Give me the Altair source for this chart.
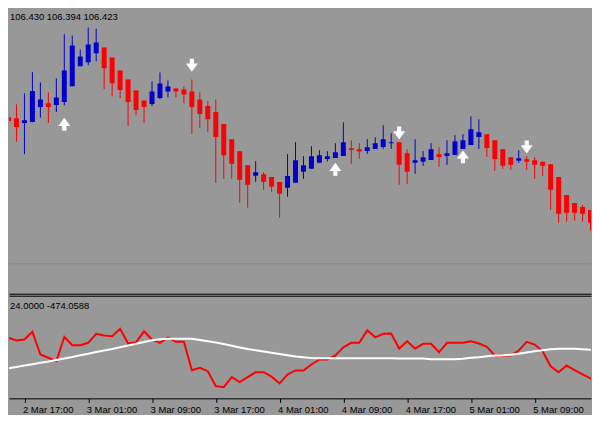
import json
import altair as alt
import pandas as pd

# ---------------- data ----------------
OPEN = [107.59, 107.53, 107.52, 107.473, 107.483, 107.633, 107.67, 107.653, 107.683, 107.843,
        108.043, 108.083, 108.173, 108.23, 108.13, 108.00, 107.91, 107.80, 107.70, 107.663,
        107.723, 107.79, 107.82, 107.81, 107.79, 107.71, 107.643, 107.583, 107.463, 107.31,
        107.19, 107.05, 106.943, 106.96, 106.93, 106.88, 106.823, 106.873, 106.983, 107.013,
        107.073, 107.113, 107.123, 107.143, 107.22, 107.21, 107.193, 107.213, 107.233, 107.27,
        107.28, 107.17, 107.073, 107.083, 107.103, 107.16, 107.143, 107.153, 107.213, 107.253,
        107.333, 107.36, 107.30, 107.21, 107.13, 107.093, 107.11, 107.10, 107.083, 107.06,
        106.93, 106.75, 106.67, 106.63, 106.60, 106.54]
HIGH = [107.62, 107.63, 107.66, 107.77, 107.983, 107.88, 107.78, 107.92, 108.363, 108.35,
        108.21, 108.43, 108.42, 108.23, 108.13, 108.00, 107.91, 107.80, 107.70, 107.89,
        107.98, 107.90, 107.82, 107.84, 107.91, 107.783, 107.693, 107.71, 107.463, 107.31,
        107.19, 107.05, 107.09, 106.98, 106.93, 106.88, 107.16, 107.28, 107.14, 107.24,
        107.20, 107.19, 107.27, 107.48, 107.30, 107.27, 107.31, 107.33, 107.45, 107.37,
        107.28, 107.21, 107.31, 107.19, 107.27, 107.23, 107.30, 107.35, 107.36, 107.54,
        107.51, 107.36, 107.30, 107.21, 107.13, 107.20, 107.14, 107.13, 107.083, 107.06,
        106.93, 106.75, 106.67, 106.65, 106.60, 106.64]
LOW = [107.44, 107.30, 107.285, 107.16, 107.48, 107.527, 107.473, 107.583, 107.65, 107.843,
       108.043, 108.053, 108.093, 107.813, 107.74, 107.723, 107.443, 107.55, 107.473, 107.643,
       107.713, 107.73, 107.73, 107.67, 107.363, 107.423, 107.383, 106.873, 106.913, 106.913,
       106.673, 106.623, 106.883, 106.803, 106.783, 106.523, 106.733, 106.873, 106.913, 107.013,
       107.073, 107.087, 107.123, 107.143, 107.063, 107.113, 107.163, 107.213, 107.213, 107.213,
       106.853, 106.863, 106.963, 107.043, 107.103, 107.033, 107.053, 107.153, 107.213, 107.253,
       107.213, 107.133, 106.993, 107.013, 107.003, 107.073, 107.003, 106.913, 106.943, 106.603,
       106.473, 106.483, 106.493, 106.483, 106.393, 106.30]
CLOSE = [107.46, 107.493, 107.433, 107.50, 107.793, 107.71, 107.633, 107.73, 108.00, 108.25,
         108.14, 108.26, 108.28, 108.023, 107.873, 107.803, 107.683, 107.603, 107.633, 107.79,
         107.87, 107.84, 107.79, 107.76, 107.633, 107.563, 107.51, 107.333, 107.15, 107.063,
         106.903, 106.853, 106.98, 106.883, 106.833, 106.763, 106.94, 107.10, 107.05, 107.14,
         107.15, 107.14, 107.18, 107.28, 107.203, 107.187, 107.23, 107.27, 107.31, 107.28,
         107.053, 106.983, 107.10, 107.13, 107.21, 107.133, 107.17, 107.29, 107.30, 107.41,
         107.38, 107.223, 107.113, 107.043, 107.053, 107.12, 107.083, 107.053, 107.043, 106.803,
         106.563, 106.573, 106.573, 106.563, 106.473, 106.425]

RED_LINE = [96, 47, 36, 40, 71, -20, -33, -47, 51, 17,
            17, 27, 63, 56, 53, 83, 24, 29, 73, 40,
            27, 49, 31, 31, -83, -73, -87, -147, -151, -111,
            -131, -111, -91, -91, -109, -136, -100, -84, -84, -60,
            -40, -40, -24, 9, 27, 27, 77, 49, 63, 64,
            4, 33, 4, 23, 23, -11, 27, 27, 27, 33,
            24, 11, -24, -24, -24, -4, 31, 20, -7, -67,
            -91, -64, -83, -100, -116, -153]
WHITE_LINE = [-80, -75, -70, -64, -59, -53, -48, -42, -36, -30,
              -23, -17, -10, -4, 2, 9, 16, 23, 30, 37,
              41, 43, 43, 43, 43, 38, 33, 28, 22, 15,
              8, 2, -3, -8, -13, -18, -23, -28, -31, -34,
              -35, -35, -35, -35, -35, -35, -35, -35, -35, -35,
              -36, -36, -36, -36, -39, -39, -39, -39, -37, -33,
              -31, -27, -24, -23, -21, -17, -12, -7, -3, 1,
              3, 3, 3, 1, -1, -4]

UP_ARROW_BARS = [8, 42, 58]
UP_ARROW_PRICE = [107.46, 107.008, 107.133]
DOWN_ARROW_BARS = [24, 50, 66]
DOWN_ARROW_PRICE = [108.053, 107.373, 107.233]
LEVEL_PRICE = [106.06]

TICK_BARS = [3, 11, 19, 27, 35, 43, 51, 59, 67, 75]
TICK_LABELS = ["2 Mar 17:00", "3 Mar 01:00", "3 Mar 09:00", "3 Mar 17:00", "4 Mar 01:00",
               "4 Mar 09:00", "4 Mar 17:00", "5 Mar 01:00", "5 Mar 09:00", "5 Mar 17:00"]

PRICE_TEXT = "106.430 106.394 106.423"
IND_TEXT = "24.0000 -474.0588"

# ---------------- styling ----------------
BG = "#989898"
BULL = "#0000CD"
BEAR = "#FF0000"
FONT = "Liberation Sans"
FS = 9.5
W = 584
H1 = 286
H2 = 103
X_MIN, X_MAX = 1.0625, 74.0625

bars = list(range(len(OPEN)))
candles = pd.DataFrame({
    "bar": bars, "open": OPEN, "high": HIGH, "low": LOW, "close": CLOSE,
    "dir": ["up" if c >= o else "down" for o, c in zip(OPEN, CLOSE)],
})
ind = pd.DataFrame({"bar": bars, "main": RED_LINE, "signal": WHITE_LINE})
ups = pd.DataFrame({"bar": UP_ARROW_BARS, "price": UP_ARROW_PRICE})
downs = pd.DataFrame({"bar": DOWN_ARROW_BARS, "price": DOWN_ARROW_PRICE})
level = pd.DataFrame({"price": LEVEL_PRICE})

xscale = alt.Scale(domain=[X_MIN, X_MAX], nice=False, zero=False)
yprice = alt.Scale(domain=[105.76, 108.62], nice=False, zero=False)
yind = alt.Scale(domain=[-196, 216], nice=False, zero=False)

frame_bottom = alt.Axis(orient="bottom", labels=False, ticks=False, grid=False, title=None,
                        domain=True, domainColor="#000000", domainWidth=1)
frame_top = alt.Axis(orient="top", labels=False, ticks=False, grid=False, title=None,
                     domain=True, domainColor="#000000", domainWidth=1)

shown_ticks = [b for b in TICK_BARS if X_MIN <= b <= X_MAX]
labels_js = json.dumps(TICK_LABELS)
values_js = json.dumps(TICK_BARS)
label_expr = f"{labels_js}[indexof({values_js}, datum.value)]"
time_axis = alt.Axis(orient="bottom", values=shown_ticks, labelExpr=label_expr, grid=False,
                     title=None, domain=True, domainColor="#000000", domainWidth=1,
                     ticks=True, tickColor="#000000", tickSize=4, tickWidth=1,
                     labelAlign="left", labelBaseline="top", labelPadding=2, labelOffset=-2,
                     labelFont=FONT, labelFontSize=FS, labelColor="#000000",
                     labelOverlap=False, labelFlush=False)

X = alt.X("bar:Q", scale=xscale, axis=frame_bottom)
color = alt.Color("dir:N", scale=alt.Scale(domain=["up", "down"], range=[BULL, BEAR]), legend=None)

level_rule = alt.Chart(level).mark_rule(color="#7b8ca2", strokeWidth=1).encode(
    y=alt.Y("price:Q", scale=yprice, axis=None))
wicks = alt.Chart(candles).mark_rule(strokeWidth=1, clip=True).encode(
    x=X, y=alt.Y("low:Q", scale=yprice, axis=None), y2="high:Q", color=color)
bodies = alt.Chart(candles).mark_rule(strokeWidth=5, clip=True).encode(
    x=X, y=alt.Y("open:Q", scale=yprice, axis=None), y2="close:Q", color=color)

UP_PATH = "M0,-1L0.92,0.25L0.32,0.25L0.32,1L-0.32,1L-0.32,0.25L-0.92,0.25Z"
DOWN_PATH = "M0,1L0.92,-0.25L0.32,-0.25L0.32,-1L-0.32,-1L-0.32,-0.25L-0.92,-0.25Z"
up_arrows = alt.Chart(ups).mark_point(shape=UP_PATH, size=169, filled=True, fill="#ffffff",
                                      opacity=1, strokeWidth=0).encode(
    x=X, y=alt.Y("price:Q", scale=yprice, axis=None))
down_arrows = alt.Chart(downs).mark_point(shape=DOWN_PATH, size=169, filled=True, fill="#ffffff",
                                          opacity=1, strokeWidth=0).encode(
    x=X, y=alt.Y("price:Q", scale=yprice, axis=None))
price_text = alt.Chart(alt.Data(values=[{"t": PRICE_TEXT}])).mark_text(
    align="left", baseline="alphabetic", font=FONT, fontSize=FS, color="#000000"
).encode(x=alt.value(1), y=alt.value(11), text="t:N")

price_panel = alt.layer(level_rule, wicks, bodies, up_arrows, down_arrows, price_text).properties(
    width=W, height=H1)

red = alt.Chart(ind).mark_line(color="#FF0000", strokeWidth=2, clip=True).encode(
    x=alt.X("bar:Q", scale=xscale, axis=time_axis),
    y=alt.Y("main:Q", scale=yind, axis=None))
white = alt.Chart(ind).mark_line(color="#FFFFFF", strokeWidth=2, clip=True).encode(
    x=alt.X("bar:Q", scale=xscale, axis=frame_top),
    y=alt.Y("signal:Q", scale=yind, axis=None))
ind_text = alt.Chart(alt.Data(values=[{"t": IND_TEXT}])).mark_text(
    align="left", baseline="alphabetic", font=FONT, fontSize=FS, color="#000000"
).encode(x=alt.value(1), y=alt.value(13), text="t:N")

ind_panel = alt.layer(red, white, ind_text).resolve_axis(x="independent").properties(
    width=W, height=H2)

chart = alt.vconcat(price_panel, ind_panel, spacing=2).properties(
    padding=0, background=BG
).configure_view(stroke="transparent", strokeWidth=0)

chart.save("out.html", embed_options={"renderer": "svg", "actions": False})
